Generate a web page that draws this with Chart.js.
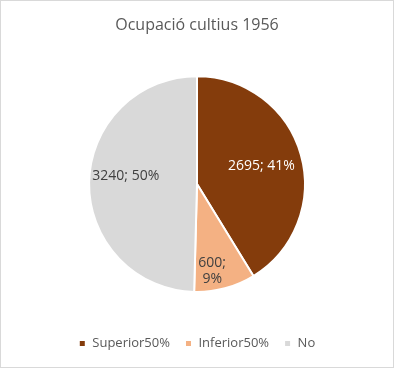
<!DOCTYPE html>
<html>
<head>
<meta charset="utf-8">
<script src="https://cdn.jsdelivr.net/npm/chart.js@4"></script>
<style>
  html, body { margin: 0; padding: 0; background: #fff; }
  #wrap { width: 392px; height: 366px; border: 1px solid #d9d9d9; }
</style>
</head>
<body>
<div id="wrap"><canvas id="pieChart" width="392" height="366"></canvas></div>
<script>
const categories = ["Superior50%", "Inferior50%", "No"];
const values = [2695, 600, 3240];
const chartTitle = "Ocupació cultius 1956";

const colors = ["#843C0C", "#F4B183", "#D9D9D9"];
const fontFamily = "'Open Sans', 'Noto Sans', sans-serif";

// draws "value; pct%" labels inside each slice
const sliceLabels = {
  id: "sliceLabels",
  afterDatasetsDraw(chart) {
    const ctx = chart.ctx;
    const meta = chart.getDatasetMeta(0);
    const data = chart.data.datasets[0].data;
    const total = data.reduce((a, b) => a + b, 0);
    const radial = [0.62, 0.83, 0.66];
    const nudge = [[0, 0], [-8, 0], [0, -7]];
    ctx.save();
    ctx.font = "14px " + fontFamily;
    ctx.textAlign = "center";
    ctx.textBaseline = "middle";
    meta.data.forEach((arc, i) => {
      const mid = (arc.startAngle + arc.endAngle) / 2;
      const r = arc.outerRadius * radial[i];
      const x = arc.x + Math.cos(mid) * r + nudge[i][0];
      const y = arc.y + Math.sin(mid) * r + nudge[i][1];
      const pct = Math.round(data[i] / total * 100) + "%";
      ctx.fillStyle = i === 0 ? "#ffffff" : "#404040";
      if (data[i] / total < 0.15) {
        ctx.fillText(data[i] + ";", x, y - 8);
        ctx.fillText(pct, x, y + 8);
      } else {
        ctx.fillText(data[i] + "; " + pct, x, y);
      }
    });
    ctx.restore();
  }
};

// push the legend further down, below the pie
const legendShift = {
  id: "legendShift",
  afterLayout(chart) {
    chart.legend.top += 29;
    chart.legend.bottom += 29;
  }
};

new Chart(document.getElementById("pieChart").getContext("2d"), {
  type: "pie",
  data: {
    labels: categories,
    datasets: [{
      data: values,
      backgroundColor: colors,
      borderColor: "#ffffff",
      borderWidth: 2
    }]
  },
  options: {
    responsive: false,
    animation: false,
    layout: { padding: { top: 0, bottom: 36, left: 0, right: 0 } },
    plugins: {
      title: {
        display: true,
        text: chartTitle,
        color: "#595959",
        font: { family: fontFamily, size: 16, weight: "normal" },
        padding: { top: 15, bottom: 40 }
      },
      legend: {
        position: "bottom",
        labels: {
          color: "#595959",
          font: { family: fontFamily, size: 13 },
          boxWidth: 7,
          boxHeight: 7,
          padding: 15
        }
      },
      tooltip: { enabled: false }
    }
  },
  plugins: [sliceLabels, legendShift]
});
</script>
</body>
</html>
